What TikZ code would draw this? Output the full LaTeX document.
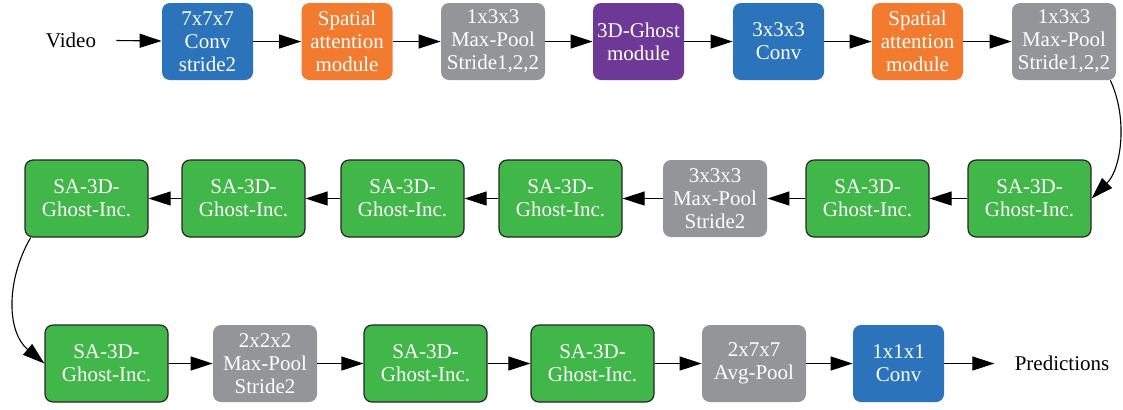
\documentclass[tikz,border=0pt]{standalone}
\usepackage{fontspec}
\setmainfont{Liberation Serif}
\usepackage{tikz}
\usetikzlibrary{arrows.meta}
\definecolor{convblue}{HTML}{2B73BA}
\definecolor{attorange}{HTML}{F37B2F}
\definecolor{poolgray}{HTML}{939598}
\definecolor{ghostpurple}{HTML}{6E3996}
\definecolor{incgreen}{HTML}{41B649}

\begin{document}
\begin{tikzpicture}[x=0.5pt,y=-0.5pt,
  blk/.style={rounded corners=4pt,minimum height=38.5pt,inner sep=0pt,align=center,
    text=white,font=\fontsize{10.5}{11.5}\selectfont},
  conv/.style={blk,fill=convblue,minimum width=45.5pt},
  att/.style={blk,fill=attorange,minimum width=45.5pt},
  pool/.style={blk,fill=poolgray,minimum width=52pt},
  ghost/.style={blk,fill=ghostpurple,minimum width=45.5pt},
  inc/.style={blk,fill=incgreen,draw=black!85,line width=0.6pt,minimum width=61.5pt},
  lbl/.style={font=\fontsize{10.5}{11.5}\selectfont,inner xsep=10pt},
  flow/.style={-{Triangle[length=11pt,width=7pt]},line width=0.55pt}]
\useasboundingbox (0,0) rectangle (1123,409);
% first row
\node[lbl] (video) at (71,40) {Video};
\node[conv] (conv1) at (207.5,41.5) {7x7x7\\Conv\\stride2};
\node[att] (sa1) at (347,41.5) {Spatial\\attention\\module};
\node[pool] (pool1) at (493,41.5) {1x3x3\\Max-Pool\\Stride1,2,2};
\node[ghost] (ghost) at (638.5,41.5) {3D-Ghost\\module};
\node[conv] (conv2) at (778.5,41.5) {3x3x3\\Conv};
\node[att] (sa2) at (917.5,41.5) {Spatial\\attention\\module};
\node[pool] (pool2) at (1064,41.5) {1x3x3\\Max-Pool\\Stride1,2,2};
% second row, right to left
\node[inc] (inc1) at (1029.5,198.5) {SA-3D-\\Ghost-Inc.};
\node[inc] (inc2) at (867.5,198.5) {SA-3D-\\Ghost-Inc.};
\node[pool] (pool3) at (715,198.5) {3x3x3\\Max-Pool\\Stride2};
\node[inc] (inc3) at (560.5,198.5) {SA-3D-\\Ghost-Inc.};
\node[inc] (inc4) at (402.5,198.5) {SA-3D-\\Ghost-Inc.};
\node[inc] (inc5) at (243.5,198.5) {SA-3D-\\Ghost-Inc.};
\node[inc] (inc6) at (86.5,198.5) {SA-3D-\\Ghost-Inc.};
% third row
\node[inc] (inc7) at (106.5,363.5) {SA-3D-\\Ghost-Inc.};
\node[pool] (pool4) at (265,363.5) {2x2x2\\Max-Pool\\Stride2};
\node[inc] (inc8) at (425.5,363.5) {SA-3D-\\Ghost-Inc.};
\node[inc] (inc9) at (592.5,363.5) {SA-3D-\\Ghost-Inc.};
\node[pool] (avg) at (754,363.5) {2x7x7\\Avg-Pool};
\node[conv] (conv3) at (898.5,363.5) {1x1x1\\Conv};
\node[lbl] (pred) at (1062,363.5) {Predictions};

\draw[flow] (video) -- (conv1);
\draw[flow] (conv1) -- (sa1);
\draw[flow] (sa1) -- (pool1);
\draw[flow] (pool1) -- (ghost);
\draw[flow] (ghost) -- (conv2);
\draw[flow] (conv2) -- (sa2);
\draw[flow] (sa2) -- (pool2);
\draw[flow] (pool2.-40) to[out=-65,in=45,looseness=0.9] (inc1.east);
\draw[flow] (inc1) -- (inc2);
\draw[flow] (inc2) -- (pool3);
\draw[flow] (pool3) -- (inc3);
\draw[flow] (inc3) -- (inc4);
\draw[flow] (inc4) -- (inc5);
\draw[flow] (inc5) -- (inc6);
\draw[flow] (inc6.-145) to[out=-120,in=140] (inc7.west);
\draw[flow] (inc7) -- (pool4);
\draw[flow] (pool4) -- (inc8);
\draw[flow] (inc8) -- (inc9);
\draw[flow] (inc9) -- (avg);
\draw[flow] (avg) -- (conv3);
\draw[flow] (conv3) -- (pred);
\end{tikzpicture}
\end{document}
